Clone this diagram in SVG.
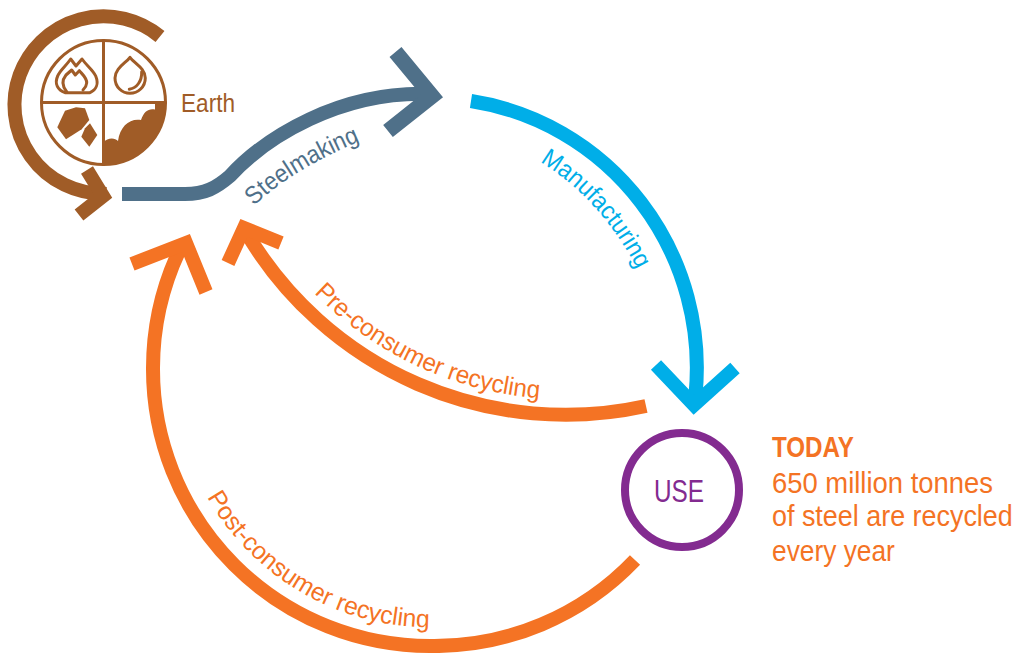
<svg xmlns="http://www.w3.org/2000/svg" width="1026" height="653" viewBox="0 0 1026 653">
<defs>
<style>
text{font-family:"Liberation Sans",Arial,sans-serif;}
.c{fill:none;stroke-width:14;stroke-linejoin:miter;stroke-miterlimit:4;}
.brown{stroke:#a05c27;} .slate{stroke:#4f7089;} .sky{stroke:#00aee8;} .org{stroke:#f47324;}
.il{fill:none;stroke:#a05c27;stroke-width:3;stroke-linejoin:round;stroke-linecap:round;}
.lab{font-size:25px;}
.t{font-size:30px;fill:#f47324;}
</style>
<path id="pSteel" d="M254,206 C279,182 318,157 378,134"/>
<path id="pManu" d="M540,162 C575,183 612,218 640,275"/>
<path id="pPre" d="M314,293 A355,355 0 0 0 550,399"/>
<path id="pPost" d="M207,497 A257.5,257.5 0 0 0 445,627"/>
</defs>
<g id="connectors">
<path class="c brown" d="M160,36.5 A89,88.7 0 1 0 103.3,193.7 L106,194"/>
<path class="c brown" d="M87,170 L103,196 L79,215"/>
<path class="c slate" d="M122,194 H185 C205,194 216,188 230,176 C265,138 340,90 432,94"/>
<path class="c slate" style="stroke-width:15.5" d="M395.5,52 L432,96 L388,131"/>
<path class="c sky" d="M471,101 A266,270 0 0 1 695.5,395 L695.5,405"/>
<path class="c sky" d="M656,365 L694,405 L735,368"/>
<path class="c org" d="M646,406 A371,371 0 0 1 246,232"/>
<path class="c org" d="M228,263 L244,228 L281,243"/>
<path class="c org" d="M635,560 A277,277 0 0 1 430,646 A277,277 0 0 1 153,369 A277,277 0 0 1 182,245"/>
<path class="c org" d="M132,264 L186,243 L206,292"/>
</g>
<g id="earth">
<circle cx="103.5" cy="102.5" r="62" class="il"/>
<path class="il" d="M103.5,40.5 V164.5 M41.5,102.5 H165.5" stroke-linecap="butt"/>
<path class="il" d="M65,92.7 C58,90 54,84 57.7,76 C60,70 66,66 70.7,59 L76,66 L82,59 C87,66 93,70 95.7,76 C99,84 96,90 90,92.7 Z"/>
<path class="il" d="M66.7,91.7 C62,86 62,80 66,75 L71.7,70 L75.3,75 L79.3,70.7 C83,75 87,78 86.7,83 C86.5,86 85,88 83,90"/>
<path class="il" d="M130,57.3 C126,63 115,68 115,78 C115,87 122,93.3 130,93.3 C138,93.3 145.3,87 145.3,78 C145.3,68 134,63 130,57.3 Z"/>
<path class="il" d="M129.3,89.3 C137,88 142,81 141.7,71.7"/>
<path fill="#a05c27" d="M65,110.7 L76,107.3 L85,108.3 L89.3,120 L81.7,129.3 L66,139.3 L57.3,127.3 Z"/>
<path fill="#a05c27" d="M90,123.3 L97.3,135 L89.3,146.7 L81.3,136.7 L85,128.3 Z"/>
<path fill="#a05c27" d="M103,165 V143 C108,137 115,138 118,141 C120,126 130,118 141,120 C144,111 149,108 155,109.5 V102.5 H165.5 A62,62 0 0 1 103,165 Z"/>
<text x="181" y="112" class="lab" fill="#a05c27" textLength="54" lengthAdjust="spacingAndGlyphs">Earth</text>
</g>
<g id="steelmaking"><text class="lab" fill="#4f7089"><textPath href="#pSteel" textLength="125" lengthAdjust="spacingAndGlyphs">Steelmaking</textPath></text></g>
<g id="manufacturing"><text class="lab" fill="#00aee8"><textPath href="#pManu" textLength="147" lengthAdjust="spacingAndGlyphs">Manufacturing</textPath></text></g>
<g id="pre-consumer"><text class="lab" fill="#f47324"><textPath href="#pPre" textLength="254" lengthAdjust="spacingAndGlyphs">Pre-consumer recycling</textPath></text></g>
<g id="post-consumer"><text class="lab" fill="#f47324"><textPath href="#pPost" textLength="270" lengthAdjust="spacingAndGlyphs">Post-consumer recycling</textPath></text></g>
<g id="use">
<circle cx="682" cy="490" r="57" fill="none" stroke="#832b90" stroke-width="8"/>
<text x="654" y="502" font-size="32" fill="#832b90" textLength="50" lengthAdjust="spacingAndGlyphs">USE</text>
</g>
<g id="today">
<text transform="translate(772,457) scale(.9,1)" class="t" font-weight="700" textLength="91" lengthAdjust="spacingAndGlyphs">TODAY</text>
<text transform="translate(772,493) scale(.9,1)" class="t" textLength="245.5" lengthAdjust="spacingAndGlyphs">650 million tonnes</text>
<text transform="translate(772,526) scale(.9,1)" class="t" textLength="267.5" lengthAdjust="spacingAndGlyphs">of steel are recycled</text>
<text transform="translate(772,561) scale(.9,1)" class="t" textLength="136.5" lengthAdjust="spacingAndGlyphs">every year</text>
</g>
</svg>
